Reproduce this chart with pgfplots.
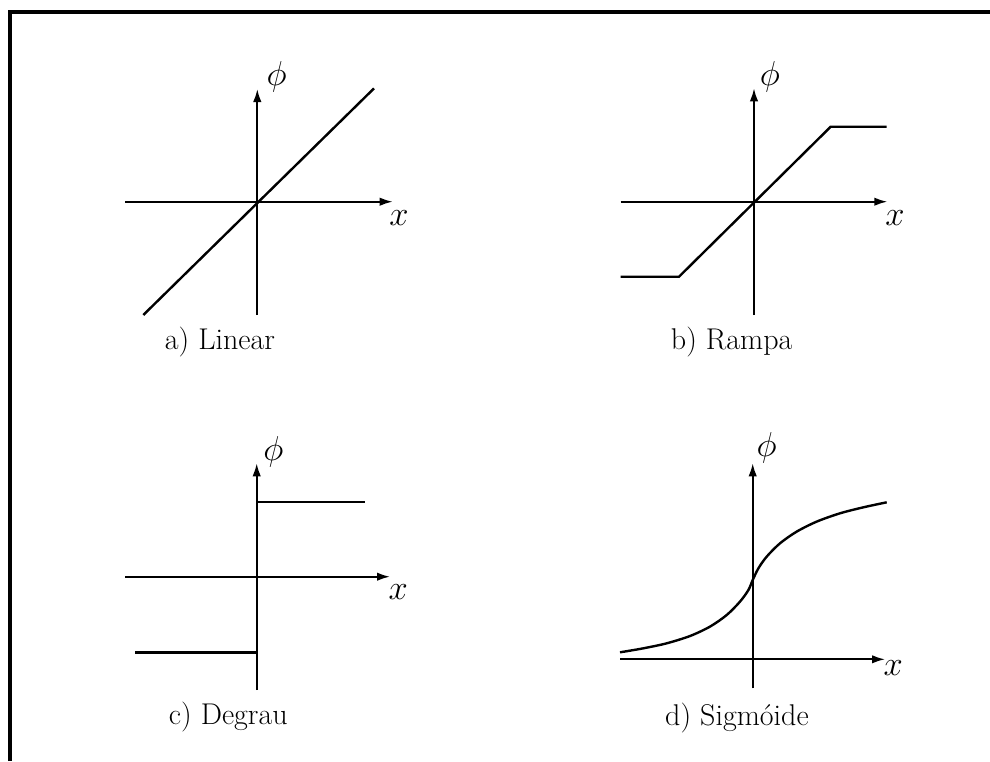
\documentclass[border=0pt]{standalone}
\usepackage{fontspec}
\usepackage{pgfplots}
\pgfplotsset{compat=1.18}
\usetikzlibrary{arrows.meta}

% one data unit = one pixel of the scanned figure
\pgfplotsset{
    act/.style={
        axis lines=middle,
        x=0.5pt, y=0.5pt,
        ticks=none,
        clip=false,
        enlargelimits=false,
        anchor=origin,
        axis line style={line width=0.9pt, -{Latex[length=6.5pt,width=4.2pt]}},
    },
    curve/.style={black, line width=1.2pt, no marks},
}
\newcommand{\lbl}{\fontsize{15}{18}\selectfont}
\newcommand{\mth}{\fontsize{17}{20}\selectfont}

\begin{document}
\begin{tikzpicture}
\useasboundingbox (0,0) rectangle (495pt,-380.5pt);
% frame (left and top edges only are in the scan)
\draw[line width=1.7pt] (5pt,-380.5pt) -- (5pt,-6pt) -- (495pt,-6pt);

% a) Linear
\begin{axis}[act, at={(128.65pt,-100.85pt)},
    xmin=-132.3, xmax=135.4, ymin=-113.3, ymax=112.7]
\addplot[curve] coordinates {(-114,-113.3) (116.7,113.3)};
\node[font=\mth] at (axis cs:19.4,125) {$\phi$};
\node[font=\mth] at (axis cs:141.7,-16.3) {$x$};
\node[font=\lbl] at (axis cs:-37.3,-140) {a) Linear};
\end{axis}

% b) Rampa
\begin{axis}[act, at={(377pt,-100.85pt)},
    xmin=-133.3, xmax=133.3, ymin=-113.3, ymax=113.4]
\addplot[curve] coordinates {(-133.3,-75) (-75,-75) (76.7,75) (132.7,75)};
\node[font=\mth] at (axis cs:16,125) {$\phi$};
\node[font=\mth] at (axis cs:141,-16.3) {$x$};
\node[font=\lbl] at (axis cs:-22.3,-140) {b) Rampa};
\end{axis}

% c) Degrau
\begin{axis}[act, at={(128.35pt,-288.35pt)},
    xmin=-131.7, xmax=133.3, ymin=-113.3, ymax=113.4]
\addplot[curve] coordinates {(-121.7,-75.6) (0,-75.6) (0,75) (108.3,75)};
\node[font=\mth] at (axis cs:16.6,125) {$\phi$};
\node[font=\mth] at (axis cs:141.6,-15) {$x$};
\node[font=\lbl] at (axis cs:-28.4,-140) {c) Degrau};
\end{axis}

% d) Sigmoide
\begin{axis}[act, at={(376.35pt,-329.65pt)},
    xmin=-132.7, xmax=132.3, ymin=-29, ymax=196]
\addplot[curve, smooth] coordinates {
(-132.7,7) (-109.3,11) (-86,16) (-62.7,23.3) (-42.7,32.7) (-26,44.3)
(-12.7,57.7) (-4.3,69.3) (0,79.3) (5.7,91) (14,102.7) (27.3,116)
(44,127.7) (64,137.7) (87.3,146) (110.7,152) (134,157)
};
\node[font=\mth] at (axis cs:14,211) {$\phi$};
\node[font=\mth] at (axis cs:140.6,-9) {$x$};
\node[font=\lbl] at (axis cs:-15.7,-59) {d) Sigmóide};
\end{axis}
\end{tikzpicture}
\end{document}
